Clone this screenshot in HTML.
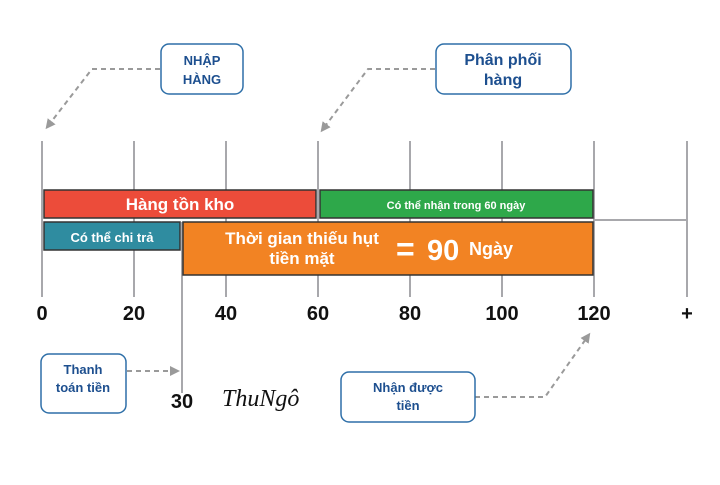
<!DOCTYPE html>
<html><head><meta charset="utf-8"><style>
body{margin:0;background:#fff;}
svg text{font-family:"Liberation Sans",sans-serif;font-weight:bold;}
</style></head><body>
<svg width="720" height="480" viewBox="0 0 720 480" xmlns="http://www.w3.org/2000/svg">
<defs><marker id="ar" markerWidth="10" markerHeight="10" refX="6" refY="5" orient="auto" markerUnits="userSpaceOnUse"><path d="M0,0 L10,5 L0,10 Z" fill="#9a9a9a"/></marker></defs>
<g stroke="#a8a8ac" stroke-width="2">
<line x1="42" y1="141" x2="42" y2="297"/><line x1="134" y1="141" x2="134" y2="297"/>
<line x1="226" y1="141" x2="226" y2="297"/><line x1="318" y1="141" x2="318" y2="297"/>
<line x1="410" y1="141" x2="410" y2="297"/><line x1="502" y1="141" x2="502" y2="297"/>
<line x1="594" y1="141" x2="594" y2="297"/><line x1="687" y1="141" x2="687" y2="297"/>
<line x1="594" y1="220" x2="687" y2="220"/>
<line x1="182" y1="222" x2="182" y2="393"/>
</g>
<rect x="44" y="190" width="272" height="28" fill="#ec4c3a" stroke="#333" stroke-width="1.5"/>
<rect x="320" y="190" width="273" height="28" fill="#2ea84a" stroke="#333" stroke-width="1.5"/>
<rect x="44" y="222" width="136" height="28" fill="#2f8ca0" stroke="#333" stroke-width="1.5"/>
<rect x="183" y="222" width="410" height="53" fill="#f28323" stroke="#333" stroke-width="1.5"/>
<g fill="#fff">
<text x="180" y="210" font-size="17" text-anchor="middle">Hàng tồn kho</text>
<text x="456" y="209" font-size="11" text-anchor="middle">Có thể nhận trong 60 ngày</text>
<text x="112" y="242" font-size="13" text-anchor="middle">Có thể chi trả</text>
<text x="302" y="244" font-size="17" text-anchor="middle">Thời gian thiếu hụt</text>
<text x="302" y="264" font-size="17" text-anchor="middle">tiền mặt</text>
<text x="396" y="260" font-size="32" font-weight="normal">=</text>
<text x="427" y="260" font-size="29">90</text>
<text x="469" y="255" font-size="18">Ngày</text>
</g>
<g fill="#111" font-size="20" text-anchor="middle">
<text x="42" y="320">0</text><text x="134" y="320">20</text><text x="226" y="320">40</text>
<text x="318" y="320">60</text><text x="410" y="320">80</text><text x="502" y="320">100</text>
<text x="594" y="320">120</text><text x="687" y="320">+</text>
<text x="182" y="408">30</text>
</g>
<g stroke="#9a9a9a" stroke-width="2" stroke-dasharray="5,4" fill="none">
<polyline points="160,69 92,69 48,126" marker-end="url(#ar)"/>
<polyline points="435,69 368,69 323,129" marker-end="url(#ar)"/>
<polyline points="127,371 176,371" marker-end="url(#ar)"/>
<polyline points="475,397 545,397 588,336" marker-end="url(#ar)"/>
</g>
<g fill="#fff" stroke="#2e6fa8" stroke-width="1.5">
<rect x="161" y="44" width="82" height="50" rx="8"/>
<rect x="436" y="44" width="135" height="50" rx="8"/>
<rect x="41" y="354" width="85" height="59" rx="8"/>
<rect x="341" y="372" width="134" height="50" rx="8"/>
</g>
<g fill="#1d4f8f" text-anchor="middle">
<text x="202" y="65" font-size="13">NHẬP</text><text x="202" y="84" font-size="13">HÀNG</text>
<text x="503" y="65" font-size="16">Phân phối</text><text x="503" y="85" font-size="16">hàng</text>
<text x="83" y="374" font-size="13">Thanh</text><text x="83" y="392" font-size="13">toán tiền</text>
<text x="408" y="392" font-size="13">Nhận được</text><text x="408" y="410" font-size="13">tiền</text>
</g>
<text x="222" y="406" font-size="24" font-style="italic" fill="#111" style="font-family:'Liberation Serif',serif;font-weight:normal">ThuNgô</text>
</svg>
</body></html>
